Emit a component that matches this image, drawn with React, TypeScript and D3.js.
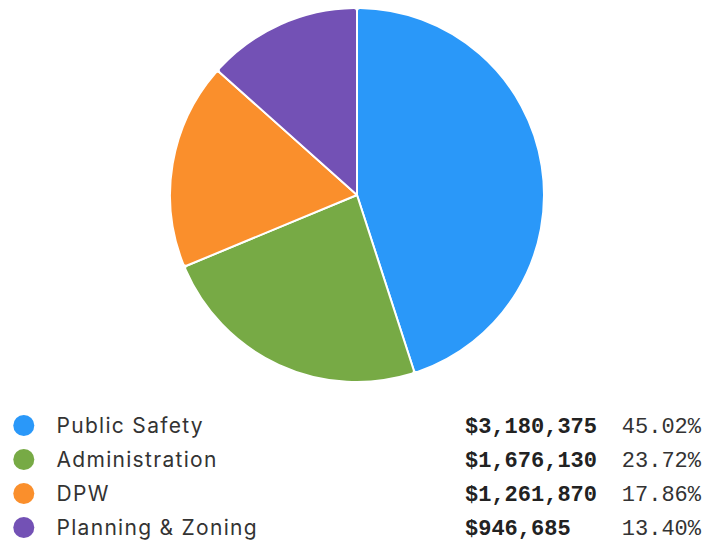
import React from "react";
import * as d3 from "d3";

const categories = ["Public Safety", "Administration", "DPW", "Planning & Zoning"];
const amounts = [3180375, 1676130, 1261870, 946685];
const percentLabels = ["45.02%", "23.72%", "17.86%", "13.40%"];
const colors = ["#2A98F9", "#77AA45", "#FA8F2C", "#7351B5"];

export default function App() {
  const W = 703, H = 544;
  const cx = 357, cy = 195, r = 187;
  const pie = d3.pie<number>().sort(null).value((d) => d);
  const arcs = pie(amounts);
  const arc = d3.arc<d3.PieArcDatum<number>>().innerRadius(0).outerRadius(r).cornerRadius(3);
  const fmt = d3.format("$,");
  const rowY = d3.scaleLinear().domain([0, 1]).range([425.5, 459.5]);
  return (
    <svg width={W} height={H} style={{ position: "absolute", left: 0, top: 0, background: "#fff" }}>
      <g transform={`translate(${cx},${cy})`}>
        {arcs.map((a, i) => (
          <path key={i} d={arc(a) || ""} fill={colors[i]} stroke="#fff" strokeWidth={2} strokeLinejoin="round" />
        ))}
      </g>
      {categories.map((c, i) => {
        const y = rowY(i);
        return (
          <g key={c}>
            <circle cx={23.8} cy={y} r={10.5} fill={colors[i]} />
            <text x={56.5} y={y + 7.5} fontFamily="Inter, 'Open Sans', sans-serif" fontSize={21} letterSpacing={1.3} fill="#333">{c}</text>
            <text x={465} y={y + 7.5} fontFamily="'Liberation Mono', monospace" fontWeight="bold" fontSize={22} fill="#222">{fmt(amounts[i])}</text>
            <text x={701} y={y + 7.5} textAnchor="end" fontFamily="'Liberation Mono', monospace" fontSize={22} fill="#333">{percentLabels[i]}</text>
          </g>
        );
      })}
    </svg>
  );
}
